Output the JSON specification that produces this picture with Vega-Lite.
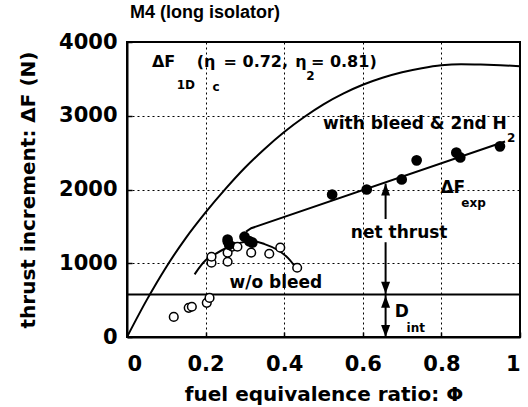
{
  "$schema": "https://vega.github.io/schema/vega-lite/v6.json",
  "width": 393,
  "height": 295,
  "autosize": {"type": "none"},
  "padding": {"left": 127, "top": 42, "right": 8, "bottom": 70},
  "background": "white",
  "title": {
    "text": "M4 (long isolator)",
    "anchor": "start",
    "frame": "group",
    "font": "Liberation Sans",
    "fontSize": 18,
    "fontWeight": "bold",
    "color": "black",
    "offset": 9,
    "dx": 3
  },
  "config": {
    "view": {"stroke": "black", "strokeWidth": 2},
    "axis": {
      "domainColor": "black",
      "domainWidth": 2,
      "tickColor": "black",
      "tickSize": -5,
      "tickWidth": 1.5,
      "grid": true,
      "gridColor": "black",
      "gridDash": [2, 3],
      "gridWidth": 1,
      "gridOpacity": 1,
      "labelFont": "DejaVu Sans",
      "labelFontWeight": "bold",
      "labelFontSize": 21,
      "labelColor": "black",
      "titleFont": "DejaVu Sans",
      "titleFontWeight": "bold",
      "titleFontSize": 20,
      "titleColor": "black"
    }
  },
  "datasets": {
    "curves": [
      {"series": "1D", "phi": 0, "dF": 0},
      {"series": "1D", "phi": 0.05, "dF": 500},
      {"series": "1D", "phi": 0.1, "dF": 950},
      {"series": "1D", "phi": 0.15, "dF": 1345},
      {"series": "1D", "phi": 0.2, "dF": 1690},
      {"series": "1D", "phi": 0.25, "dF": 2005},
      {"series": "1D", "phi": 0.3, "dF": 2295},
      {"series": "1D", "phi": 0.35, "dF": 2550},
      {"series": "1D", "phi": 0.4, "dF": 2780},
      {"series": "1D", "phi": 0.45, "dF": 2980},
      {"series": "1D", "phi": 0.5, "dF": 3155},
      {"series": "1D", "phi": 0.55, "dF": 3300},
      {"series": "1D", "phi": 0.6, "dF": 3420},
      {"series": "1D", "phi": 0.65, "dF": 3515},
      {"series": "1D", "phi": 0.7, "dF": 3590},
      {"series": "1D", "phi": 0.75, "dF": 3645},
      {"series": "1D", "phi": 0.8, "dF": 3685},
      {"series": "1D", "phi": 0.85, "dF": 3700},
      {"series": "1D", "phi": 0.9, "dF": 3695},
      {"series": "1D", "phi": 0.95, "dF": 3685},
      {"series": "1D", "phi": 1.0, "dF": 3672},
      {"series": "wo", "phi": 0.172, "dF": 850},
      {"series": "wo", "phi": 0.2, "dF": 1040},
      {"series": "wo", "phi": 0.22, "dF": 1110},
      {"series": "wo", "phi": 0.25, "dF": 1200},
      {"series": "wo", "phi": 0.29, "dF": 1280},
      {"series": "wo", "phi": 0.32, "dF": 1300},
      {"series": "wo", "phi": 0.35, "dF": 1260},
      {"series": "wo", "phi": 0.38, "dF": 1190},
      {"series": "wo", "phi": 0.41, "dF": 1070},
      {"series": "wo", "phi": 0.435, "dF": 900}
    ],
    "straight": [
      {"series": "with", "phi": 0.303, "dF": 1430},
      {"series": "with", "phi": 0.316, "dF": 1475},
      {"series": "with", "phi": 0.962, "dF": 2650},
      {"series": "Dint", "phi": 0, "dF": 575},
      {"series": "Dint", "phi": 1, "dF": 575}
    ],
    "open": [
      {"phi": 0.119, "dF": 272},
      {"phi": 0.157, "dF": 395},
      {"phi": 0.165, "dF": 410},
      {"phi": 0.203, "dF": 463},
      {"phi": 0.21, "dF": 530},
      {"phi": 0.215, "dF": 1007},
      {"phi": 0.215, "dF": 1088},
      {"phi": 0.256, "dF": 1020},
      {"phi": 0.256, "dF": 1143},
      {"phi": 0.256, "dF": 1292},
      {"phi": 0.268, "dF": 1225},
      {"phi": 0.281, "dF": 1224},
      {"phi": 0.316, "dF": 1143},
      {"phi": 0.362, "dF": 1129},
      {"phi": 0.39, "dF": 1211},
      {"phi": 0.433, "dF": 939}
    ],
    "filled": [
      {"phi": 0.256, "dF": 1320},
      {"phi": 0.26, "dF": 1250},
      {"phi": 0.299, "dF": 1360},
      {"phi": 0.311, "dF": 1300},
      {"phi": 0.319, "dF": 1280},
      {"phi": 0.522, "dF": 1932},
      {"phi": 0.61, "dF": 2000},
      {"phi": 0.699, "dF": 2136},
      {"phi": 0.737, "dF": 2395},
      {"phi": 0.838, "dF": 2500},
      {"phi": 0.848, "dF": 2435},
      {"phi": 0.949, "dF": 2585}
    ],
    "shafts": [
      {"phi": 0.658, "dF": 1600, "dF2": 2080},
      {"phi": 0.658, "dF": 1285, "dF2": 575},
      {"phi": 0.658, "dF": 575, "dF2": 0}
    ],
    "tipsUp": [
      {"phi": 0.658, "dF": 2080},
      {"phi": 0.658, "dF": 560}
    ],
    "tipsDown": [
      {"phi": 0.658, "dF": 585},
      {"phi": 0.658, "dF": 0}
    ],
    "topLabel": [
      {"phi": 0.0633, "dF": 3728, "text": "ΔF"},
      {"phi": 0.1772, "dF": 3728, "text": "(η"},
      {"phi": 0.2456, "dF": 3728, "text": "= 0.72,"},
      {"phi": 0.4278, "dF": 3728, "text": "η"},
      {"phi": 0.468, "dF": 3728, "text": "= 0.81)"}
    ],
    "labels": [
      {"phi": 0.4987, "dF": 2884, "text": "with bleed & 2nd H"},
      {"phi": 0.7975, "dF": 2014, "text": "ΔF"},
      {"phi": 0.5696, "dF": 1415, "text": "net thrust"},
      {"phi": 0.2608, "dF": 735, "text": "w/o bleed"},
      {"phi": 0.681, "dF": 340, "text": "D"}
    ],
    "subs": [
      {"phi": 0.1266, "dF": 3415, "text": "1D"},
      {"phi": 0.2177, "dF": 3388, "text": "c"},
      {"phi": 0.456, "dF": 3545, "text": "2"},
      {"phi": 0.967, "dF": 2694, "text": "2"},
      {"phi": 0.8506, "dF": 1823, "text": "exp"},
      {"phi": 0.7114, "dF": 122, "text": "int"}
    ]
  },
  "encoding": {
    "x": {
      "field": "phi", "type": "quantitative",
      "scale": {"domain": [0, 1], "nice": false, "zero": false},
      "axis": {
        "title": "fuel equivalence ratio:  Φ",
        "values": [0, 0.2, 0.4, 0.6, 0.8, 1],
        "format": "~g",
        "labelPadding": 21,
        "titlePadding": 10
      }
    },
    "y": {
      "field": "dF", "type": "quantitative",
      "scale": {"domain": [0, 4000], "nice": false},
      "axis": {
        "title": "thrust increment: ΔF (N)",
        "values": [0, 1000, 2000, 3000, 4000],
        "format": "d",
        "labelPadding": 15,
        "titlePadding": 20
      }
    }
  },
  "layer": [
    {
      "data": {"name": "curves"},
      "mark": {"type": "line", "color": "black", "strokeWidth": 2, "interpolate": "monotone"},
      "encoding": {"detail": {"field": "series", "type": "nominal"}}
    },
    {
      "data": {"name": "straight"},
      "mark": {"type": "line", "color": "black", "strokeWidth": 2},
      "encoding": {"detail": {"field": "series", "type": "nominal"}}
    },
    {
      "data": {"name": "shafts"},
      "mark": {"type": "rule", "color": "black", "strokeWidth": 2},
      "encoding": {"y2": {"field": "dF2"}}
    },
    {
      "data": {"name": "tipsUp"},
      "mark": {"type": "point", "shape": "M-0.75,2L0.75,2L0,0Z", "size": 144, "filled": true, "color": "black", "opacity": 1},
      "encoding": {}
    },
    {
      "data": {"name": "tipsDown"},
      "mark": {"type": "point", "shape": "M-0.75,-2L0.75,-2L0,0Z", "size": 144, "filled": true, "color": "black", "opacity": 1},
      "encoding": {}
    },
    {
      "data": {"name": "open"},
      "mark": {"type": "point", "shape": "circle", "size": 75, "filled": true, "fill": "white", "stroke": "black", "strokeWidth": 1.5, "opacity": 1},
      "encoding": {}
    },
    {
      "data": {"name": "filled"},
      "mark": {"type": "point", "shape": "circle", "size": 115, "filled": true, "color": "black", "opacity": 1},
      "encoding": {}
    },
    {
      "data": {"name": "topLabel"},
      "mark": {"type": "text", "align": "left", "baseline": "middle", "font": "DejaVu Sans", "fontWeight": "bold", "fontSize": 16, "color": "black"},
      "encoding": {"text": {"field": "text"}}
    },
    {
      "data": {"name": "labels"},
      "mark": {"type": "text", "align": "left", "baseline": "middle", "font": "DejaVu Sans", "fontWeight": "bold", "fontSize": 17, "color": "black"},
      "encoding": {"text": {"field": "text"}}
    },
    {
      "data": {"name": "subs"},
      "mark": {"type": "text", "align": "left", "baseline": "middle", "font": "DejaVu Sans", "fontWeight": "bold", "fontSize": 12, "color": "black"},
      "encoding": {"text": {"field": "text"}}
    }
  ]
}
